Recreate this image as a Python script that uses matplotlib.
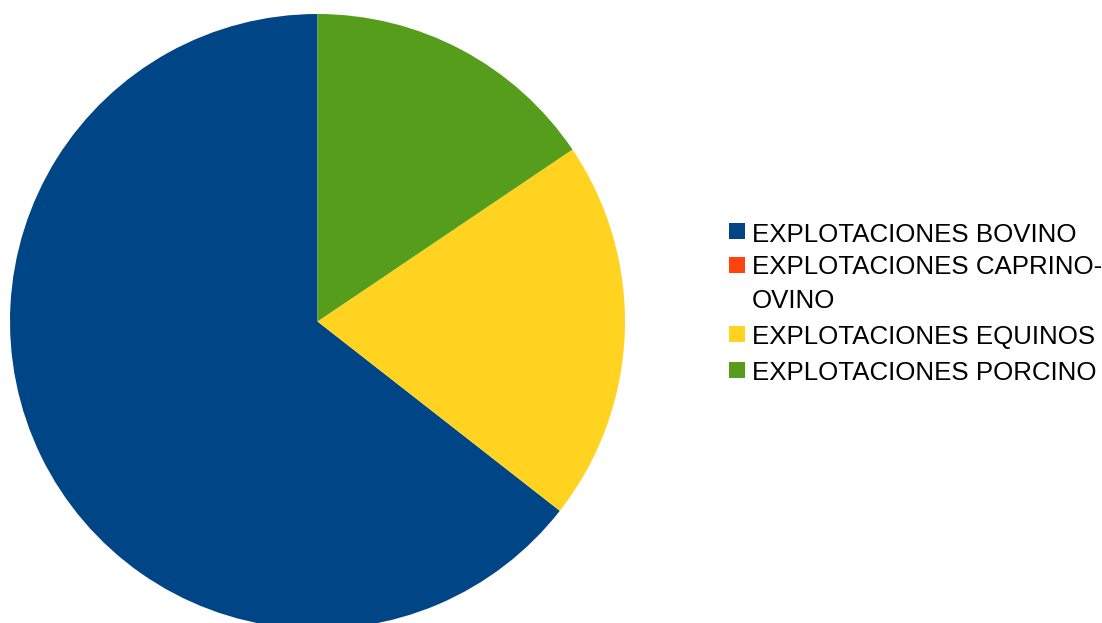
import matplotlib.pyplot as plt
from matplotlib.patches import Rectangle

labels = ['EXPLOTACIONES BOVINO', 'EXPLOTACIONES CAPRINO-\nOVINO',
          'EXPLOTACIONES EQUINOS', 'EXPLOTACIONES PORCINO']
values = [58, 0, 18, 14]
colors = ['#004586', '#ff420e', '#ffd320', '#579d1c']

W, H = 1102, 623
plt.rcParams['font.family'] = ['Liberation Sans', 'DejaVu Sans']

fig = plt.figure(figsize=(W / 100, H / 100), dpi=100)
ax = fig.add_axes([0, 0, 1, 1])

# pie, drawn in pixel coordinates (y up)
ax.pie(values, colors=colors, startangle=90, counterclock=True,
       center=(317.5, H - 321.5), radius=307.5,
       wedgeprops=dict(linewidth=0))
ax.set_xlim(0, W)
ax.set_ylim(0, H)
ax.set_aspect('equal')
ax.axis('off')

# legend: square marker plus label per entry (pixel rows from top)
box_y = [231, 264.5, 334, 369.5]
text_y = [233, 265.5, 335, 371]
for lab, col, by, ty in zip(labels, colors, box_y, text_y):
    ax.add_patch(Rectangle((729, H - by - 8), 16, 16, facecolor=col, linewidth=0))
    for i, line in enumerate(lab.split('\n')):
        ax.text(752, H - ty - 2 - i * 33.5, line, fontsize=18.6, va='center', ha='left')

fig.savefig('out.png', dpi=100)
